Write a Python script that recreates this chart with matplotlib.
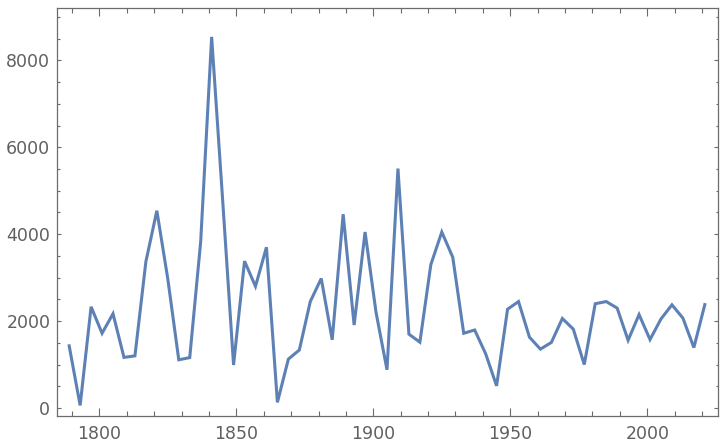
import matplotlib
matplotlib.use("Agg")
import matplotlib.pyplot as plt
from matplotlib.ticker import MultipleLocator

years = list(range(1789, 2022, 4))
values = [1431, 60, 2330, 1720, 2170, 1165, 1200, 3370, 4540, 2970,
          1110, 1160, 3830, 8540, 4800, 990, 3380, 2800, 3700, 130,
          1125, 1335, 2450, 2980, 1570, 4460, 1910, 4050, 2200, 880,
          5510, 1700, 1515, 3300, 4050, 3470, 1720, 1795, 1250, 510,
          2273, 2450, 1630, 1355, 1510, 2060, 1815, 1000, 2400, 2450,
          2300, 1560, 2150, 1575, 2050, 2375, 2070, 1390, 2380]

line_color = "#5E81B5"
frame_color = "#6b6b6b"
label_color = "#606060"

fig = plt.figure(figsize=(7.2, 4.48), dpi=100)
ax = fig.add_axes([0.0796, 0.0714, 0.918, 0.9106])
ax.plot(years, values, color=line_color, lw=2.2, solid_joinstyle="miter")

ax.set_xlim(1784.67, 2025.91)
ax.set_ylim(-184, 9204)

ax.xaxis.set_major_locator(MultipleLocator(50))
ax.xaxis.set_minor_locator(MultipleLocator(10))
ax.yaxis.set_major_locator(MultipleLocator(2000))
ax.yaxis.set_minor_locator(MultipleLocator(500))

for s in ax.spines.values():
    s.set_color(frame_color)
    s.set_linewidth(0.9)

ax.tick_params(axis="x", which="major", direction="in", length=6, width=0.8,
               color=frame_color, top=True, labelsize=12.5, labelcolor=label_color, pad=6.5)
ax.tick_params(axis="x", which="minor", direction="in", length=3.7, width=0.8,
               color=frame_color, top=True)
ax.tick_params(axis="y", which="major", direction="in", length=3, width=0.8,
               color=frame_color, right=True, labelsize=12.5, labelcolor=label_color, pad=5)
ax.tick_params(axis="y", which="minor", direction="in", length=1.8, width=0.8,
               color=frame_color, right=True)

fig.savefig("out.png", dpi=100)
